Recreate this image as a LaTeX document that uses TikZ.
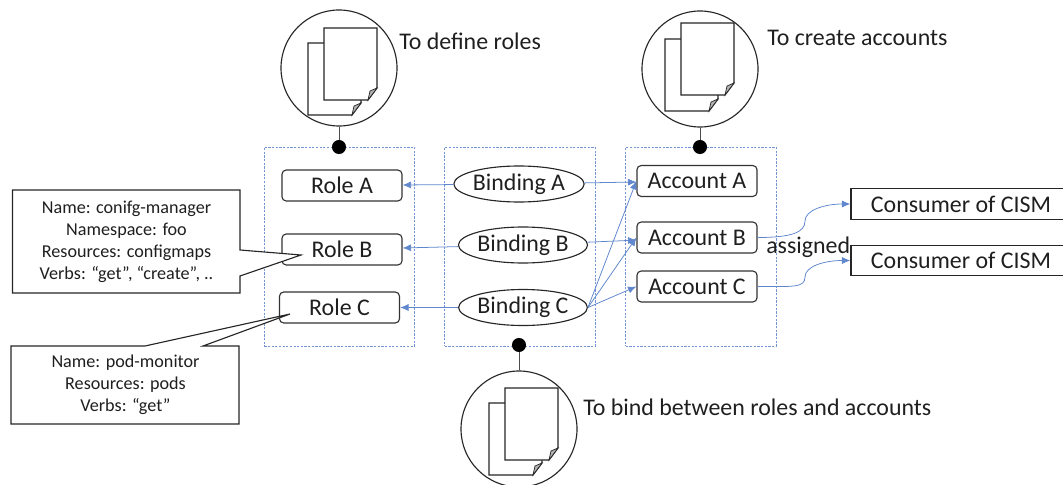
\documentclass[tikz,border=0pt]{standalone}
\usepackage{fontspec}
\setmainfont{Carlito}
\usetikzlibrary{shapes.geometric,arrows.meta}
\definecolor{flowblue}{HTML}{4472C4}
\definecolor{inkgray}{HTML}{1F1F1F}
\tikzset{
    groupbox/.style={draw=flowblue!75, line width=0.45pt, dash pattern=on 1.6pt off 1pt, minimum width=107pt, minimum height=141.5pt, inner sep=0pt},
    rolebox/.style={draw=black!80, line width=0.8pt, rounded corners=3pt, minimum width=85.4pt, minimum height=22pt, inner sep=0pt, font=\fontsize{17}{18}\selectfont, text=inkgray},
    bindnode/.style={draw=black!85, line width=0.8pt, ellipse, minimum width=88.2pt, minimum height=25.6pt, inner sep=0pt, font=\fontsize{17}{18}\selectfont, text=inkgray},
    consumerbox/.style={draw=black!85, line width=0.8pt, minimum width=156.5pt, minimum height=21.6pt, inner sep=0pt, font=\fontsize{17}{18}\selectfont, text=inkgray},
    holder/.style={draw=black!85, line width=0.8pt, circle, minimum size=82.5pt, inner sep=0pt},
    pin/.style={fill=black, circle, minimum size=10pt, inner sep=0pt},
    flow/.style={-{Latex[length=6pt,width=5pt]}, flowblue!85, line width=0.55pt},
    note/.style={align=center, inner sep=0pt, text=inkgray, font=\fontsize{12.9}{15.7}\selectfont},
    notebox/.style={draw=black!85, line width=0.8pt, fill=white},
    caption/.style={anchor=west, inner sep=0pt, text=inkgray, font=\fontsize{17}{18}\selectfont}
}
% one sheet, #1 #2 is the top left corner
\newcommand{\docsheet}[2]{
    \draw [black!85, line width=0.9pt, fill=white] (#1,#2) -- (#1+53,#2) -- (#1+53,#2+60) -- (#1+44,#2+72) -- (#1,#2+72) -- cycle;
    \draw [black!85, line width=0.5pt, fill=black!30] (#1+53,#2+60) -- (#1+46,#2+63) -- (#1+44,#2+72) -- cycle;
}
\begin{document}
\begin{tikzpicture}[x=0.025cm,y=-0.025cm]
    \useasboundingbox (0,0) rectangle (1063,485);
    % groups
    \node [groupbox] (roleGroup) at (339.5,246.5) {};
    \node [groupbox] (bindGroup) at (520,246.5) {};
    \node [groupbox] (acctGroup) at (701,246.5) {};
    % holders
    \node [holder] (defHolder) at (339,68) {};
    \node [holder] (newHolder) at (700,69) {};
    \node [holder] (bndHolder) at (519,429) {};
    \node [pin] (defPin) at (339,147) {};
    \node [pin] (newPin) at (700,147) {};
    \node [pin] (bndPin) at (519,345) {};
    \draw [black!70, thin] (defHolder) -- (defPin);
    \draw [black!70, thin] (newHolder) -- (newPin);
    \draw [black!70, thin] (bndHolder) -- (bndPin);
    % sheets
    \docsheet{308}{43}
    \docsheet{324}{28}
    \docsheet{665}{39}
    \docsheet{681}{23}
    \docsheet{489}{403}
    \docsheet{505}{388}
    % captions
    \node [caption] (defText) at (399,41) {To define roles};
    \node [caption] (newText) at (767,38) {To create accounts};
    \node [caption] (bndText) at (583,407) {To bind between roles and accounts};
    % roles
    \node [rolebox] (roleA) at (342,185.5) {Role A};
    \node [rolebox] (roleB) at (342,249.5) {Role B};
    \node [rolebox] (roleC) at (339.5,307.5) {Role C};
    % bindings
    \node [bindnode] (bindA) at (519,184) {Binding A};
    \node [bindnode] (bindB) at (523,245) {Binding B};
    \node [bindnode] (bindC) at (523,307.5) {Binding C};
    % accounts
    \node [rolebox] (acctA) at (697,181) {Account A};
    \node [rolebox] (acctB) at (697,237.5) {Account B};
    \node [rolebox] (acctC) at (697,286.5) {Account C};
    % consumers
    \node [consumerbox] (consA) at (961,204) {Consumer of CISM};
    \node [consumerbox] (consB) at (961,260.5) {Consumer of CISM};
    \node [caption] (assignText) at (766,247) {assigned};
    % binding arrows
    \draw [flow] (bindA) -- (roleA);
    \draw [flow] (bindB) -- (roleB);
    \draw [flow] (bindC) -- (roleC);
    \draw [flow] (bindA) -- (acctA);
    \draw [flow] (bindB) -- (acctB);
    \draw [flow] (bindC.east) -- (acctA.west);
    \draw [flow] (bindC.east) -- (acctB.west);
    \draw [flow] (bindC.east) -- (acctC.west);
    % curves
    \coordinate (bendA) at (805,221);
    \coordinate (bendB) at (805,277);
    \draw [flow] (acctB.east) .. controls +(35,0) and (805,232) .. (bendA) .. controls (805,210) and (825,204) .. (consA.west);
    \draw [flow] (acctC.east) .. controls +(35,0) and (805,288) .. (bendB) .. controls (805,266) and (825,260.5) .. (consB.west);
    % notes
    \draw [notebox] (12.5,190) -- (240,190) -- (240,250) -- (301,255) -- (240,276) -- (240,293) -- (12.5,293) -- cycle;
    \node [note] (noteB) at (126.5,241.5) {Name: conifg-manager\\Namespace: foo\\Resources: configmaps\\Verbs: “get”, “create”, ..};
    \draw [notebox] (11,346) -- (145,346) -- (290,314) -- (203,346) -- (239,346) -- (239,424) -- (11,424) -- cycle;
    \node [note] (noteC) at (125.5,385) {Name: pod-monitor\\Resources: pods\\Verbs: “get”};
\end{tikzpicture}
\end{document}
